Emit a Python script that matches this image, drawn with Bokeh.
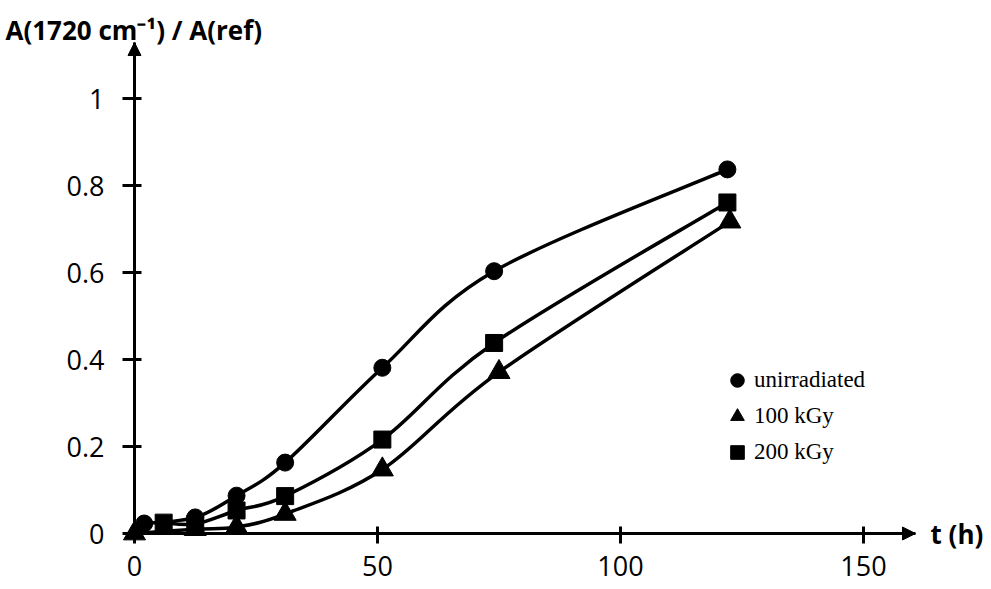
from bokeh.plotting import figure
from bokeh.models import (Range1d, FixedTicker, NumeralTickFormatter, Legend,
                          LegendItem, Label, Arrow, NormalHead)
from bokeh.embed import file_html
from bokeh.resources import INLINE

# ---- data ----
t_unirr = [2, 12.5, 21, 31, 51, 74, 122]
a_unirr = [0.023, 0.037, 0.087, 0.163, 0.381, 0.603, 0.837]

t_100 = [0, 12.5, 21, 31, 51, 75, 122.5]
a_100 = [0.0, 0.010, 0.015, 0.045, 0.147, 0.371, 0.717]

t_200 = [6, 12.5, 21, 31, 51, 74, 122]
a_200 = [0.025, 0.022, 0.053, 0.086, 0.216, 0.438, 0.761]

x_ticks = [0, 50, 100, 150]
y_ticks = [0, 0.2, 0.4, 0.6, 0.8, 1.0]

series_labels = ["unirradiated", "100 kGy", "200 kGy"]
y_title = "A(1720 cm\u207b\u00b9) / A(ref)"
x_title = "t (h)"

W, H = 989, 589
X_TIP = 160.7      # end of the x axis (arrow tip)
Y_TIP = 1.1287     # end of the y axis (arrow tip)

p = figure(width=W, height=H,
           x_range=Range1d(-27.572, 175.93), y_range=Range1d(-0.1287, 1.2253),
           output_backend="svg", toolbar_location=None, min_border=0)
p.outline_line_color = None
p.grid.visible = False
p.background_fill_color = "white"

for ax in (p.xaxis[0], p.yaxis[0]):
    ax.fixed_location = 0
    ax.axis_line_width = 3
    ax.axis_line_color = "black"
    ax.major_tick_line_width = 3
    ax.major_tick_line_color = "black"
    ax.major_tick_in = 7
    ax.minor_tick_line_color = None
    ax.major_label_text_font = "Open Sans"
    ax.major_label_text_font_size = "27px"
    ax.major_label_text_color = "black"

p.xaxis.ticker = FixedTicker(ticks=x_ticks)
p.yaxis.ticker = FixedTicker(ticks=y_ticks)
p.xaxis.bounds = (0, X_TIP)
p.yaxis.bounds = (0, Y_TIP)
p.yaxis.formatter = NumeralTickFormatter(format="0.[0]")
p.xaxis.major_tick_out = 10
p.yaxis.major_tick_out = 12
p.xaxis.major_label_standoff = 12
p.yaxis.major_label_standoff = 18


def smooth(xs, ys):
    n = len(xs)
    out = dict(x0=[], y0=[], x1=[], y1=[], cx0=[], cy0=[], cx1=[], cy1=[])
    for i in range(n - 1):
        a = i - 1 if i > 0 else i
        b = i + 2 if i + 2 < n else i + 1
        out["x0"].append(xs[i]); out["y0"].append(ys[i])
        out["x1"].append(xs[i + 1]); out["y1"].append(ys[i + 1])
        out["cx0"].append(xs[i] + (xs[i + 1] - xs[a]) / 6)
        out["cy0"].append(ys[i] + (ys[i + 1] - ys[a]) / 6)
        out["cx1"].append(xs[i + 1] - (xs[b] - xs[i]) / 6)
        out["cy1"].append(ys[i + 1] - (ys[b] - ys[i]) / 6)
    return out


for xs, ys in ((t_unirr, a_unirr), (t_100, a_100), (t_200, a_200)):
    p.bezier(line_color="black", line_width=3.5, **smooth(xs, ys))

r_c = p.scatter(t_unirr, a_unirr, marker="circle", size=17, color="black")
r_t = p.scatter(t_100, a_100, marker="triangle", size=22, color="black")
r_s = p.scatter(t_200, a_200, marker="square", size=17, color="black")

legend = Legend(items=[LegendItem(label=series_labels[0], renderers=[r_c]),
                       LegendItem(label=series_labels[1], renderers=[r_t]),
                       LegendItem(label=series_labels[2], renderers=[r_s])],
                location=(720, H - 470), glyph_width=34, glyph_height=36, spacing=0,
                padding=0, margin=0, label_standoff=-2, border_line_color=None,
                background_fill_alpha=0, label_text_font="Liberation Serif",
                label_text_font_size="23px", label_text_color="black")
p.add_layout(legend)

# axis arrows
p.add_layout(Arrow(end=NormalHead(size=13, fill_color="black", line_color="black"),
                   x_start=0, y_start=Y_TIP * 0.97, x_end=0, y_end=Y_TIP,
                   line_color="black", line_width=3))
p.add_layout(Arrow(end=NormalHead(size=13, fill_color="black", line_color="black"),
                   x_start=X_TIP * 0.97, y_start=0, x_end=X_TIP, y_end=0,
                   line_color="black", line_width=3))

p.add_layout(Label(x=5, y=H - 29, x_units="screen", y_units="screen", text=y_title,
                   text_baseline="alphabetic", text_font="Open Sans", text_font_style="bold",
                   text_font_size="26px", text_color="black"))
p.add_layout(Label(x=163.8, y=0, text=x_title,
                   text_baseline="middle", text_font="Open Sans", text_font_style="bold",
                   text_font_size="26px", text_color="black"))

open("out.html", "w").write(file_html(p, INLINE))
